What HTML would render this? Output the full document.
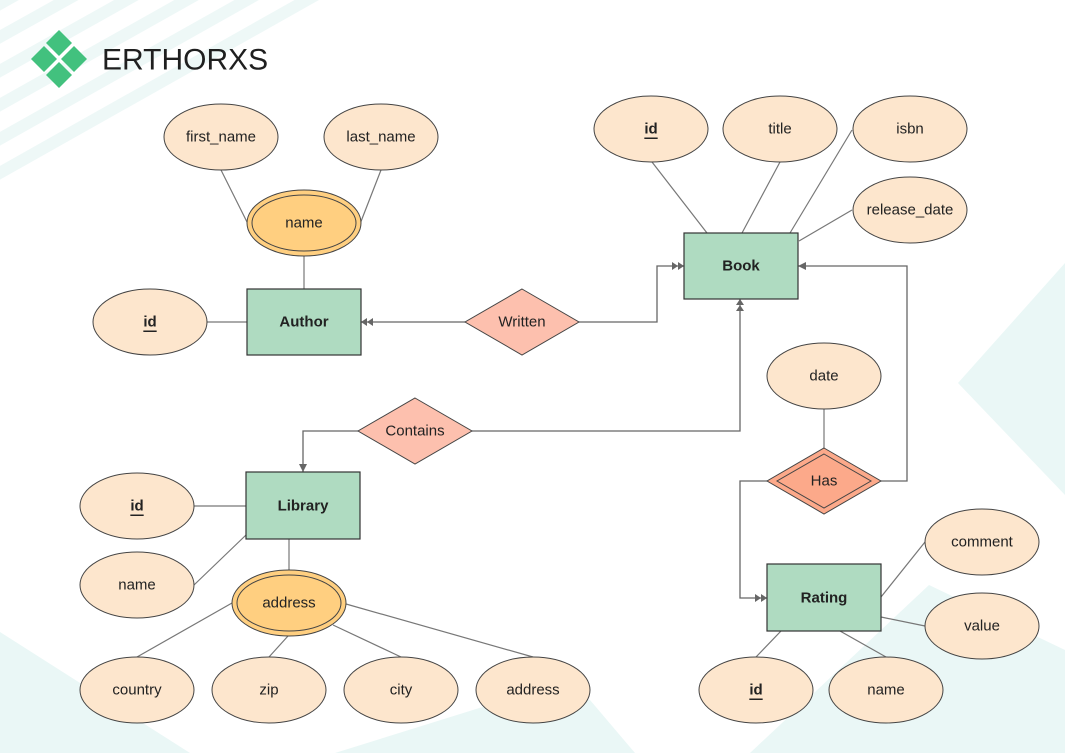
<!DOCTYPE html>
<html><head><meta charset="utf-8"><style>
html,body{margin:0;padding:0;background:#fff}
svg{display:block}
text{font-family:"Liberation Sans",Arial,sans-serif;font-size:15px;fill:#222;text-anchor:middle;dominant-baseline:central}
.e{fill:#fde6cd;stroke:#444;stroke-width:1}
.r{fill:#afdbc1;stroke:#333;stroke-width:1.2}
.l{stroke:#777;stroke-width:1.2;fill:none}
.c{stroke:#666;stroke-width:1.3;fill:none}
.b{font-weight:bold}
</style></head><body>
<svg width="1065" height="753" viewBox="0 0 1065 753" xmlns="http://www.w3.org/2000/svg">
<defs>
<clipPath id="cp"><polygon points="0,0 330,0 0,195"/></clipPath>
<marker id="a2" markerWidth="14" markerHeight="10" refX="12" refY="5" orient="auto" markerUnits="userSpaceOnUse"><path d="M0,1 L6,5 L0,9 Z M6,1 L12,5 L6,9 Z" fill="#666"/></marker>
<marker id="a1" markerWidth="10" markerHeight="10" refX="8" refY="5" orient="auto" markerUnits="userSpaceOnUse"><path d="M0,1 L8,5 L0,9 Z" fill="#666"/></marker>
</defs>
<g clip-path="url(#cp)" stroke="#eef8f7" stroke-width="12">
<line x1="-20" y1="15" x2="60" y2="-30"/>
<line x1="-20" y1="48" x2="120" y2="-30"/>
<line x1="-20" y1="82" x2="180" y2="-30"/>
<line x1="-20" y1="116" x2="240" y2="-30"/>
<line x1="-20" y1="150" x2="300" y2="-30"/>
<line x1="-20" y1="184" x2="360" y2="-30"/>
<line x1="-20" y1="218" x2="400" y2="-20"/>
</g>
<g fill="#eaf7f6">
<polygon points="1065,263 958,383 1065,495"/>
<polygon points="929,585 1065,650 1065,753 750,753"/>
<polygon points="0,632 190,753 0,753"/>
<polygon points="335,753 505,700 590,700 635,753"/>
</g>
<g fill="#42c17e">
<polygon points="59,30 72,43 59,56 46,43"/>
<polygon points="44,46 57,59 44,72 31,59"/>
<polygon points="74,46 87,59 74,72 61,59"/>
<polygon points="59,62 72,75 59,88 46,75"/>
</g>
<text x="102" y="60" style="font-size:30px;text-anchor:start;fill:#1f1f1f">ERTHORXS</text>

<g class="l">
<line x1="221" y1="170" x2="247" y2="222"/>
<line x1="381" y1="170" x2="360" y2="224"/>
<line x1="304" y1="255" x2="304" y2="289"/>
<line x1="207" y1="322" x2="247" y2="322"/>
<line x1="652" y1="162" x2="707" y2="233"/>
<line x1="780" y1="162" x2="742" y2="233"/>
<line x1="852" y1="130" x2="790" y2="233"/>
<line x1="852" y1="210" x2="799" y2="241"/>
<line x1="194" y1="506" x2="246" y2="506"/>
<line x1="194" y1="585" x2="246" y2="535"/>
<line x1="289" y1="539" x2="289" y2="571"/>
<line x1="232" y1="603" x2="137" y2="657"/>
<line x1="288" y1="636" x2="269" y2="657"/>
<line x1="333" y1="625" x2="401" y2="657"/>
<line x1="346" y1="604" x2="533" y2="657"/>
<line x1="824" y1="409" x2="824" y2="448"/>
<line x1="925" y1="542" x2="881" y2="597"/>
<line x1="925" y1="626" x2="881" y2="617"/>
<line x1="756" y1="657" x2="781" y2="631"/>
<line x1="886" y1="657" x2="840" y2="631"/>
</g>
<g class="c">
<polyline points="579,322 657,322 657,266 684,266" marker-end="url(#a2)"/>
<polyline points="465,322 361,322" marker-end="url(#a2)"/>
<polyline points="472,431 740,431 740,299" marker-end="url(#a2)"/>
<polyline points="358,431 303,431 303,472" marker-end="url(#a1)"/>
<polyline points="881,481 907,481 907,266 798,266" marker-end="url(#a1)"/>
<polyline points="767,481 740,481 740,598 767,598" marker-end="url(#a2)"/>
</g>

<g transform="translate(0,1)">
<ellipse class="e" cx="221" cy="136" rx="57" ry="33"/><text x="221" y="136">first_name</text>
<ellipse class="e" cx="381" cy="136" rx="57" ry="33"/><text x="381" y="136">last_name</text>
<ellipse cx="304" cy="222" rx="57" ry="33" fill="#ffcf80" stroke="#444"/>
<ellipse cx="304" cy="222" rx="52" ry="28" fill="none" stroke="#444"/><text x="304" y="222">name</text>
<ellipse class="e" cx="150" cy="321" rx="57" ry="33"/><text x="150" y="321" class="b" text-decoration="underline">id</text>
<ellipse class="e" cx="651" cy="128" rx="57" ry="33"/><text x="651" y="128" class="b" text-decoration="underline">id</text>
<ellipse class="e" cx="780" cy="128" rx="57" ry="33"/><text x="780" y="128">title</text>
<ellipse class="e" cx="910" cy="128" rx="57" ry="33"/><text x="910" y="128">isbn</text>
<ellipse class="e" cx="910" cy="209" rx="57" ry="33"/><text x="910" y="209">release_date</text>
<ellipse class="e" cx="824" cy="375" rx="57" ry="33"/><text x="824" y="375">date</text>
<ellipse class="e" cx="982" cy="541" rx="57" ry="33"/><text x="982" y="541">comment</text>
<ellipse class="e" cx="982" cy="625" rx="57" ry="33"/><text x="982" y="625">value</text>
<ellipse class="e" cx="756" cy="689" rx="57" ry="33"/><text x="756" y="689" class="b" text-decoration="underline">id</text>
<ellipse class="e" cx="886" cy="689" rx="57" ry="33"/><text x="886" y="689">name</text>
<ellipse class="e" cx="137" cy="505" rx="57" ry="33"/><text x="137" y="505" class="b" text-decoration="underline">id</text>
<ellipse class="e" cx="137" cy="584" rx="57" ry="33"/><text x="137" y="584">name</text>
<ellipse cx="289" cy="602" rx="57" ry="33" fill="#ffcf80" stroke="#444"/>
<ellipse cx="289" cy="602" rx="52" ry="28" fill="none" stroke="#444"/><text x="289" y="602">address</text>
<ellipse class="e" cx="137" cy="689" rx="57" ry="33"/><text x="137" y="689">country</text>
<ellipse class="e" cx="269" cy="689" rx="57" ry="33"/><text x="269" y="689">zip</text>
<ellipse class="e" cx="401" cy="689" rx="57" ry="33"/><text x="401" y="689">city</text>
<ellipse class="e" cx="533" cy="689" rx="57" ry="33"/><text x="533" y="689">address</text>
</g>

<rect class="r" x="247" y="289" width="114" height="66"/><text x="304" y="322" class="b">Author</text>
<rect class="r" x="684" y="233" width="114" height="66"/><text x="741" y="266" class="b">Book</text>
<rect class="r" x="246" y="472" width="114" height="67"/><text x="303" y="506" class="b">Library</text>
<rect class="r" x="767" y="564" width="114" height="67"/><text x="824" y="598" class="b">Rating</text>

<polygon points="522,289 579,322 522,355 465,322" fill="#fdc0ae" stroke="#444"/><text x="522" y="322">Written</text>
<polygon points="415,398 472,431 415,464 358,431" fill="#fdc0ae" stroke="#444"/><text x="415" y="431">Contains</text>
<polygon points="824,448 881,481 824,514 767,481" fill="#fca98a" stroke="#444"/>
<polygon points="824,454 871,481 824,508 777,481" fill="none" stroke="#444"/><text x="824" y="481">Has</text>
</svg>
</body></html>
